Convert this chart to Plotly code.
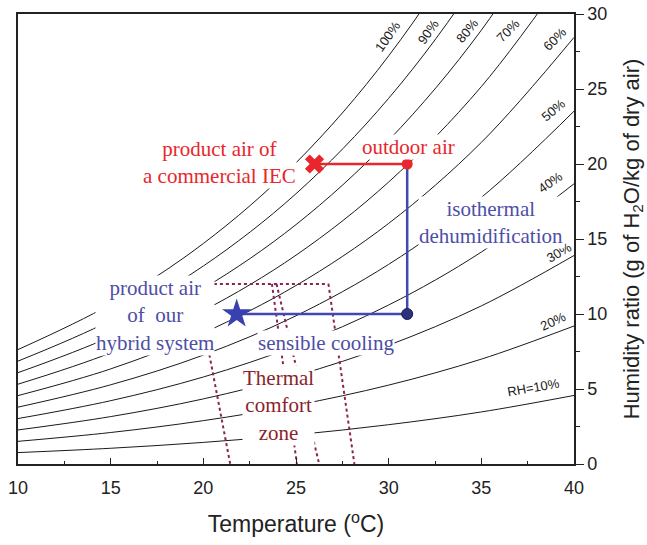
import plotly.graph_objects as go

# ---- data ----
temps = [10, 15, 20, 25, 30, 35, 40]
w_rh10 = [0.76, 1.05, 1.44, 1.95, 2.62, 3.47, 4.57]
w_rh20 = [1.51, 2.10, 2.89, 3.92, 5.26, 6.99, 9.20]
w_rh30 = [2.27, 3.16, 4.34, 5.89, 7.92, 10.54, 13.90]
w_rh40 = [3.03, 4.22, 5.80, 7.88, 10.60, 14.13, 18.68]
w_rh50 = [3.79, 5.28, 7.26, 9.88, 13.31, 17.77, 23.52]
w_rh60 = [4.56, 6.34, 8.74, 11.90, 16.04, 21.44, 28.44]
w_rh70 = [5.32, 7.41, 10.22, 13.92, 18.80, 25.16, 33.44]
w_rh80 = [6.09, 8.49, 11.70, 15.96, 21.58, 28.92, 38.51]
w_rh90 = [6.86, 9.57, 13.20, 18.02, 24.38, 32.73, 43.66]
w_rh100 = [7.63, 10.65, 14.70, 20.08, 27.21, 36.58, 48.89]
rh_curves = [w_rh10, w_rh20, w_rh30, w_rh40, w_rh50, w_rh60, w_rh70, w_rh80, w_rh90, w_rh100]

rh_label_text = ["RH=10%", "20%", "30%", "40%", "50%", "60%", "70%", "80%", "90%", "100%"]
rh_label_t = [37.8, 38.85, 39.2, 38.7, 38.85, 38.95, 36.45, 34.25, 32.1, 29.95]
rh_label_w = [5.1, 9.5, 14.1, 18.8, 23.6, 28.3, 28.9, 28.9, 28.8, 28.5]
rh_label_angle = [-10, -25, -30, -35, -40, -45, -45, -50, -55, -55]

# process points
iec_t, iec_w = 26.0, 20.0
outdoor_t, outdoor_w = 31.0, 20.0
mid_t, mid_w = 31.0, 10.0
hybrid_t, hybrid_w = 21.8, 10.0

# thermal comfort zone boundaries
comfort_top_t = [19.6, 26.75]
comfort_top_w = [12.0, 12.0]
comfort_upper_t = [19.6, 23.7, 23.95, 26.75]
comfort_lower_t = [21.45, 25.05, 26.25, 28.15]
comfort_upper_w = 12.0
comfort_lower_w = 0.0

RED = "#e8262c"
BLUE_LINE = "#4148b2"
BLUE_TEXT = "#4d4ea6"
COMFORT = "#8a2352"
SERIF = "Liberation Serif"
SANS = "Liberation Sans"

fig = go.Figure()

for w in rh_curves:
    fig.add_trace(go.Scatter(x=temps, y=w, mode="lines", line=dict(color="#1a1a1a", width=1, shape="spline"),
                             showlegend=False, hoverinfo="skip"))

# comfort zone
fig.add_trace(go.Scatter(x=comfort_top_t, y=comfort_top_w, mode="lines",
                         line=dict(color=COMFORT, width=2, dash="dot"), showlegend=False))
for tu, tl in zip(comfort_upper_t, comfort_lower_t):
    fig.add_trace(go.Scatter(x=[tu, tl], y=[comfort_upper_w, comfort_lower_w], mode="lines",
                             line=dict(color=COMFORT, width=2, dash="dot"), showlegend=False))

# process lines
fig.add_trace(go.Scatter(x=[outdoor_t, mid_t, hybrid_t], y=[outdoor_w, mid_w, hybrid_w], mode="lines",
                         line=dict(color=BLUE_LINE, width=2.5), showlegend=False))
fig.add_trace(go.Scatter(x=[iec_t, outdoor_t], y=[iec_w, outdoor_w], mode="lines",
                         line=dict(color=RED, width=2.5), showlegend=False))
fig.add_trace(go.Scatter(x=[iec_t], y=[iec_w], mode="markers",
                         marker=dict(symbol="x", size=17, color=RED, line=dict(width=0)), showlegend=False))
fig.add_trace(go.Scatter(x=[outdoor_t], y=[outdoor_w], mode="markers",
                         marker=dict(symbol="circle", size=11, color=RED), showlegend=False))
fig.add_trace(go.Scatter(x=[mid_t], y=[mid_w], mode="markers",
                         marker=dict(symbol="circle", size=11, color="#2c3180",
                                     line=dict(color="#1a1d50", width=1)), showlegend=False))
fig.add_trace(go.Scatter(x=[hybrid_t], y=[hybrid_w], mode="markers",
                         marker=dict(symbol="star", size=22, color="#3841b0"), showlegend=False))

annotations = []
for txt, t, w, a in zip(rh_label_text, rh_label_t, rh_label_w, rh_label_angle):
    annotations.append(dict(x=t, y=w, text=txt, textangle=a, showarrow=False,
                            font=dict(family=SANS, size=13, color="#1a1a1a")))

text_items = [
    ("product air of<br>a commercial IEC", 20.85, 20.1, RED),
    ("outdoor air", 31.05, 21.15, RED),
    ("isothermal<br>dehumidification", 35.5, 16.1, BLUE_TEXT),
    ("product air<br>of  our<br>hybrid system", 17.4, 9.9, BLUE_TEXT),
    ("sensible cooling", 26.6, 8.1, BLUE_TEXT),
    ("Thermal<br>comfort<br>zone", 24.05, 3.9, "#8b1f2c"),
]
for txt, t, w, c in text_items:
    annotations.append(dict(x=t, y=w, text=txt, showarrow=False, bgcolor="white", borderpad=0,
                            font=dict(family=SERIF, size=21, color=c)))

fig.update_layout(
    width=647, height=545,
    margin=dict(l=18, r=73, t=14, b=81),
    plot_bgcolor="white", paper_bgcolor="white",
    annotations=annotations,
    xaxis=dict(range=[10, 40], tick0=10, dtick=5, ticks="inside", ticklen=6, tickcolor="#222",
               minor=dict(tick0=10, dtick=2.5, ticks="inside", ticklen=3, tickcolor="#222"),
               showline=True, linecolor="#222", linewidth=1.5, mirror=True, showgrid=False, zeroline=False,
               automargin=False,
               tickfont=dict(family=SANS, size=18, color="#222"), ticklabelstandoff=7,
               title=dict(text="Temperature (<sup>o</sup>C)", font=dict(family=SANS, size=23, color="#222"),
                          standoff=19)),
    yaxis=dict(range=[0, 30], side="right", tick0=0, dtick=5, ticks="outside", ticklen=8, tickcolor="#222",
               minor=dict(tick0=0, dtick=2.5, ticks="outside", ticklen=4, tickcolor="#222"),
               showline=True, linecolor="#222", linewidth=1.5, mirror=True, showgrid=False, zeroline=False,
               automargin=False,
               tickfont=dict(family=SANS, size=18, color="#222"),
               title=dict(text="Humidity ratio (g of H<sub>2</sub>O/kg of dry air)",
                          font=dict(family=SANS, size=22, color="#222"), standoff=17)),
)

fig.write_html("out.html")
